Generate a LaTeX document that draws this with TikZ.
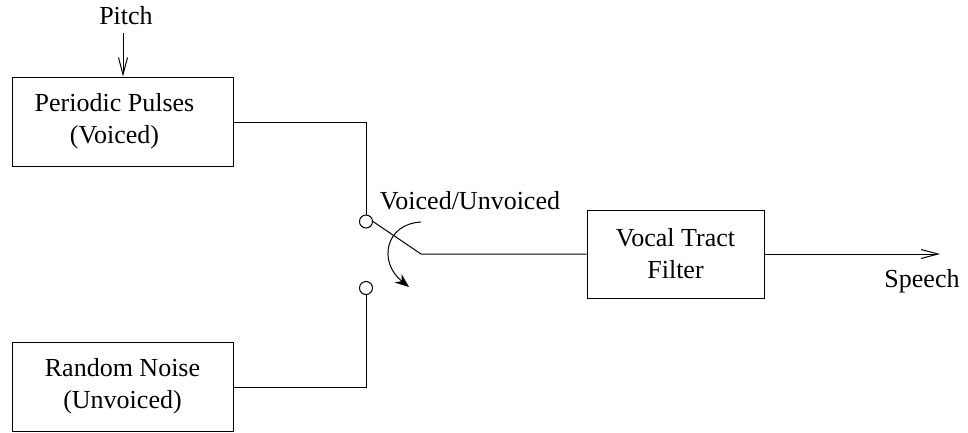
\documentclass[tikz,border=0pt]{standalone}
\usepackage{fontspec}
\setmainfont{Liberation Serif}
\usetikzlibrary{arrows.meta}
\begin{document}
\begin{tikzpicture}[x=1pt,y=-1pt,line width=1pt,
  every node/.style={font=\fontsize{26}{32}\selectfont, inner sep=0pt},
  blockbox/.style={draw, align=center, minimum width=#1, minimum height=89pt},
  sw/.style={draw, circle, minimum size=13pt},
  barb/.style={-{Straight Barb[length=17pt,width=9pt,line width=1pt]}}]
\useasboundingbox (0,0) rectangle (968,432);
\node (pitch) at (126,16) {Pitch};
\node[blockbox=221pt] (pp) at (122.5,121.5) {Periodic Pulses\hspace*{16pt}\\(Voiced)\hspace*{16pt}};
\node[blockbox=221pt] (rn) at (122.5,386.5) {Random Noise\\(Unvoiced)};
\node[blockbox=177pt, minimum height=88pt] (vt) at (675.5,254) {Vocal Tract\\Filter};
\node[sw] (c1) at (366,221.5) {};
\node[sw] (c2) at (366,288) {};
\coordinate (pin) at (123,33);
\coordinate (swend) at (421,254);
\coordinate (out) at (940,254);
\coordinate (arcs) at (421,222);
\coordinate (arce) at (409,287);
\node (vu) at (470,201) {Voiced/Unvoiced};
\node (sp) at (922,281) {Speech};
\draw[barb] (pin) -- (pin |- pp.north);
\draw (pp.east |- 0,122) -| (c1.north);
\draw (rn.east |- 0,387) -| (c2.south);
\draw (c1.east) -- (swend) -- (vt.west |- swend);
\draw[barb] (vt.east) -- (out);
\draw[-{Stealth[length=14pt,width=11pt]}] (arcs) .. controls (385,224) and (378,262) .. (arce);
\end{tikzpicture}
\end{document}
